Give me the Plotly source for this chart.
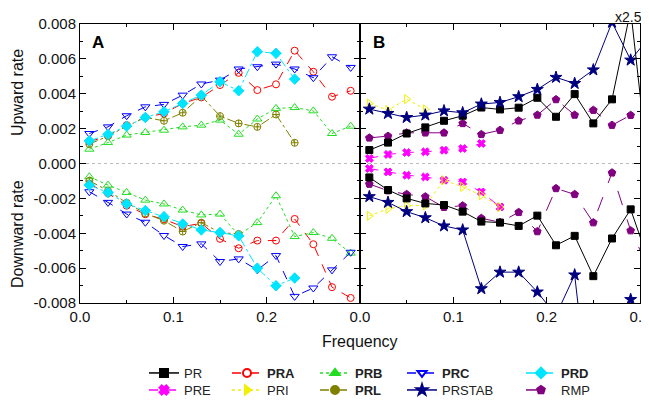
import plotly.graph_objects as go

# ---------------- data ----------------
freq = [0.01, 0.03, 0.05, 0.07, 0.09, 0.11, 0.13, 0.15, 0.17, 0.19, 0.21, 0.23, 0.25, 0.27, 0.29]
freq_ext = freq + [0.31]

# Panel A
PRA_up = [0.00124, 0.00159, 0.0022, 0.00264, 0.00287, 0.00344, 0.00379, 0.0045, 0.0052, 0.00421, 0.00454, 0.00647, 0.00526, 0.00383, 0.00417]
PRA_dn = [-0.00118, -0.00171, -0.00242, -0.00291, -0.0032, -0.00362, -0.00343, -0.00432, -0.00486, -0.00442, -0.00442, -0.00318, -0.00463, -0.00709, -0.00771]
PRB_up = [0.00082, 0.0012, 0.00163, 0.00178, 0.00191, 0.0021, 0.0022, 0.00249, 0.00168, 0.00255, 0.00316, 0.00321, 0.00302, 0.00172, 0.00214]
PRB_dn = [-0.00076, -0.00124, -0.00166, -0.0021, -0.00232, -0.00267, -0.00295, -0.0029, -0.0041, -0.00339, -0.00185, -0.00419, -0.00396, -0.00429, -0.00514]
PRC_up = [0.00172, 0.0021, 0.00274, 0.00325, 0.00339, 0.00392, 0.00456, 0.00478, 0.00542, 0.00555, 0.0057, 0.00542, 0.00492, 0.00612, 0.00551]
PRC_dn = [-0.00162, -0.00223, -0.0029, -0.00337, -0.00413, -0.00476, -0.00461, -0.00562, -0.00547, -0.0061, -0.00528, -0.00762, -0.00714, -0.0061, -0.00509]
PRD_up = [0.0013, 0.00167, 0.00214, 0.00264, 0.00297, 0.00344, 0.00392, 0.00469, 0.00417, 0.00641, 0.00632, 0.00484]
PRD_dn = [-0.00124, -0.00166, -0.00232, -0.0027, -0.00305, -0.00347, -0.00381, -0.00396, -0.00415, -0.006, -0.00701, -0.00657]
PRL_up = [0.00111, 0.00157, 0.00214, 0.00264, 0.00245, 0.00291, 0.00388, 0.00272, 0.0023, 0.0021, 0.00281, 0.00119]
PRL_dn = [-0.00099, -0.00156, -0.00225, -0.00286, -0.00328, -0.0039, -0.00339, -0.00396, -0.00404]

# Panel B
PR_up = [0.00077, 0.0012, 0.00172, 0.00207, 0.00245, 0.00274, 0.00321, 0.0031, 0.0032, 0.00377, 0.00268, 0.00398, 0.0023, 0.00368, 0.0088, -0.0008]
PR_dn = [-0.0008, -0.00152, -0.002, -0.00229, -0.00238, -0.00276, -0.00333, -0.00339, -0.00358, -0.00299, -0.00469, -0.00415, -0.00646, -0.0043, -0.00263, -0.00573]
PRSTAB_up = [0.00312, 0.00287, 0.00264, 0.00278, 0.00302, 0.00291, 0.00341, 0.0035, 0.00383, 0.00425, 0.00494, 0.00459, 0.00537, 0.0081, 0.00593, 0.00725]
PRSTAB_dn = [-0.0019, -0.00223, -0.00276, -0.00311, -0.00358, -0.00381, -0.00718, -0.00623, -0.00623, -0.00737, -0.0087, -0.00639, -0.0158, -0.014, -0.0078]
RMP_up = [0.00147, 0.00157, 0.00176, 0.00176, 0.00176, 0.0023, 0.00167, 0.00191, 0.00245, 0.00278, 0.00367, 0.00278, 0.00306, 0.0022, 0.00277, 0.0029]
RMP_dn = [-0.00118, -0.00156, -0.00177, -0.0019, -0.00251, -0.00242, -0.00314, -0.00337, -0.0028, -0.0039, -0.00143, -0.00177, -0.00339, -0.00053, -0.00385, -0.00605]
PRE_up = [0.00029, 0.00052, 0.00063, 0.00067, 0.00076, 0.00086, 0.00115]
PRE_dn = [-0.00029, -0.00048, -0.00067, -0.00077, -0.00096, -0.00106, -0.00163, -0.00249]
PRI_up = [0.00344, 0.00306, 0.00369, 0.0031]
PRI_dn = [-0.003, -0.0026, -0.00242, -0.0024, -0.00096, -0.00134, -0.00182, -0.0025]

y_ticks = [-0.008, -0.006, -0.004, -0.002, 0.0, 0.002, 0.004, 0.006, 0.008]
y_ticktext = ["-0.008", "-0.006", "-0.004", "-0.002", "0.000", "0.002", "0.004", "0.006", "0.008"]
xa_ticks = [0.0, 0.1, 0.2]
xa_ticktext = ["0.0", "0.1", "0.2"]
xb_ticks = [0.0, 0.1, 0.2, 0.3]
xb_ticktext = ["0.0", "0.1", "0.2", "0.3"]

FONT = "Liberation Sans, Arial, sans-serif"

styles = {
    "PR":     dict(c="#000000", dash="solid",    sym="square",              lsym="square",             size=7, bold=False),
    "PRA":    dict(c="#FF0000", dash="dash",     sym="circle-open",         lsym="circle-open",        size=7, bold=True),
    "PRB":    dict(c="#22DD22", dash="dot",      sym="triangle-up-open",    lsym="triangle-up",        size=8, bold=True),
    "PRC":    dict(c="#0000FF", dash="dash",     sym="triangle-down-open",  lsym="triangle-down-open", size=8, bold=True),
    "PRD":    dict(c="#00E5FF", dash="dashdot",  sym="diamond-cross",       lsym="diamond",            size=8, bold=True),
    "PRE":    dict(c="#FF00FF", dash="dash",     sym="x",                   lsym="x",                  size=7, bold=False),
    "PRI":    dict(c="#F0F000", dash="dot",      sym="triangle-right-open", lsym="triangle-right",     size=8, bold=False),
    "PRL":    dict(c="#808000", dash="dashdot",  sym="circle-cross-open",   lsym="circle",             size=7, bold=True),
    "PRSTAB": dict(c="#000080", dash="solid",    sym="star",                lsym="star",               size=9, bold=False),
    "RMP":    dict(c="#800080", dash="longdash", sym="pentagon",            lsym="pentagon",           size=8, bold=False),
}

fig = go.Figure()

def add(name, xs, ys, xa, ya):
    s = styles[name]
    fig.add_trace(go.Scatter(
        x=xs, y=ys, xaxis=xa, yaxis=ya, mode="lines+markers", showlegend=False,
        line=dict(color=s["c"], width=1, dash=s["dash"]),
        marker=dict(symbol=s["sym"], size=s["size"], color=s["c"],
                    line=dict(color=s["c"], width=1)),
        cliponaxis=True, name=name))

# Panel A
add("PRA", freq, PRA_up, "x", "y"); add("PRA", freq, PRA_dn, "x", "y")
add("PRB", freq, PRB_up, "x", "y"); add("PRB", freq, PRB_dn, "x", "y")
add("PRL", freq[:len(PRL_up)], PRL_up, "x", "y"); add("PRL", freq[:len(PRL_dn)], PRL_dn, "x", "y")
add("PRC", freq, PRC_up, "x", "y"); add("PRC", freq, PRC_dn, "x", "y")
add("PRD", freq[:len(PRD_up)], PRD_up, "x", "y"); add("PRD", freq[:len(PRD_dn)], PRD_dn, "x", "y")

# Panel B
add("RMP", freq_ext, RMP_up, "x2", "y2"); add("RMP", freq_ext, RMP_dn, "x2", "y2")
add("PRE", freq[:len(PRE_up)], PRE_up, "x2", "y2"); add("PRE", freq[:len(PRE_dn)], PRE_dn, "x2", "y2")
add("PRI", freq[:len(PRI_up)], PRI_up, "x2", "y2"); add("PRI", freq[:len(PRI_dn)], PRI_dn, "x2", "y2")
add("PR", freq_ext, PR_up, "x2", "y2"); add("PR", freq_ext, PR_dn, "x2", "y2")
add("PRSTAB", freq_ext, PRSTAB_up, "x2", "y2"); add("PRSTAB", freq[:len(PRSTAB_dn)], PRSTAB_dn, "x2", "y2")

# The page body has an 8px margin, so the figure is drawn 8px in from the
# window's top-left corner; layout pixel positions below are window pixels.
OFF = 8
W, H = 649 - OFF, 401 - OFF
ML, MR, MT, MB = 80 - OFF, 9, 24 - OFF, 98
PW, PH = W - ML - MR, H - MT - MB

def px(xw):
    return (xw - OFF - ML) / PW

def py(yw):
    return (MT + PH - (yw - OFF)) / PH

legend_order = [["PR", "PRE"], ["PRA", "PRI"], ["PRB", "PRL"], ["PRC", "PRSTAB"], ["PRD", "RMP"]]
col_x_px = [144, 227, 315, 402, 521]
row_y_px = [373, 390]

layout_legends = {}
k = 0
for ci, col in enumerate(legend_order):
    for ri, name in enumerate(col):
        k += 1
        key = "legend" if k == 1 else f"legend{k}"
        s = styles[name]
        label = f"<b>{name}</b>" if s["bold"] else name
        fig.add_trace(go.Scatter(
            x=[None], y=[None], mode="lines+markers", name=label, legend=key,
            line=dict(color=s["c"], width=1.5, dash=s["dash"]),
            marker=dict(symbol=s["lsym"], size=8, color=s["c"],
                        line=dict(color=s["c"], width=2))))
        layout_legends[key] = dict(
            x=px(col_x_px[ci]), y=py(row_y_px[ri]),
            xanchor="left", yanchor="middle", orientation="v",
            font=dict(family=FONT, size=13, color="#222"),
            bgcolor="rgba(0,0,0,0)", itemwidth=30, borderwidth=0,
            itemclick=False, itemdoubleclick=False)

axis_common = dict(showline=True, linecolor="black", linewidth=1, mirror="ticks",
                   ticks="inside", ticklen=6, tickwidth=1, tickcolor="black",
                   showgrid=False, zeroline=False, ticklabeloverflow="allow",
                   tickfont=dict(family=FONT, size=15, color="#111"))

fig.update_layout(
    width=W, height=H,
    margin=dict(l=ML, r=MR, t=MT, b=MB, autoexpand=False),
    paper_bgcolor="white", plot_bgcolor="white",
    font=dict(family=FONT, color="#111"),
    xaxis=dict(domain=[0, 0.5], range=[0, 0.3], tickvals=xa_ticks, ticktext=xa_ticktext,
               minor=dict(dtick=0.05, ticks="inside", ticklen=3, tickcolor="black"),
               anchor="y", **axis_common),
    xaxis2=dict(domain=[0.5, 1], range=[0, 0.3], tickvals=xb_ticks, ticktext=xb_ticktext,
                minor=dict(dtick=0.05, ticks="inside", ticklen=3, tickcolor="black"),
                anchor="y2", **axis_common),
    yaxis=dict(range=[-0.008, 0.008], tickvals=y_ticks, ticktext=y_ticktext,
               minor=dict(dtick=0.001, ticks="inside", ticklen=3, tickcolor="black"),
               anchor="x", **axis_common),
    yaxis2=dict(range=[-0.008, 0.008], tickvals=y_ticks, showticklabels=False,
                minor=dict(dtick=0.001, ticks="inside", ticklen=3, tickcolor="black"),
                anchor="x2", **axis_common),
    **layout_legends,
)

fig.add_shape(type="line", xref="paper", yref="y", x0=0, x1=1, y0=0, y1=0,
              line=dict(color="#bbbbbb", width=1, dash="dot"), layer="below")

ann_font = dict(family=FONT, size=16, color="#111")
fig.add_annotation(text="Upward rate", xref="paper", yref="paper",
                   x=px(17), y=py(93), textangle=-90,
                   showarrow=False, font=ann_font, xanchor="center", yanchor="middle")
fig.add_annotation(text="Downward rate", xref="paper", yref="paper",
                   x=px(17), y=py(234), textangle=-90,
                   showarrow=False, font=ann_font, xanchor="center", yanchor="middle")
fig.add_annotation(text="Frequency", xref="paper", yref="paper",
                   x=px(360), y=py(342),
                   showarrow=False, font=ann_font, xanchor="center", yanchor="middle")
fig.add_annotation(text="<b>A</b>", xref="paper", yref="paper",
                   x=px(98), y=py(43),
                   showarrow=False, font=dict(family=FONT, size=17, color="#000"),
                   xanchor="center", yanchor="middle")
fig.add_annotation(text="<b>B</b>", xref="paper", yref="paper",
                   x=px(379), y=py(42),
                   showarrow=False, font=dict(family=FONT, size=17, color="#000"),
                   xanchor="center", yanchor="middle")
fig.add_annotation(text="x2.5", xref="paper", yref="paper",
                   x=px(643), y=py(8), borderpad=0,
                   showarrow=False, font=dict(family=FONT, size=14, color="#111"),
                   xanchor="right", yanchor="top")

fig.write_html("out.html")
